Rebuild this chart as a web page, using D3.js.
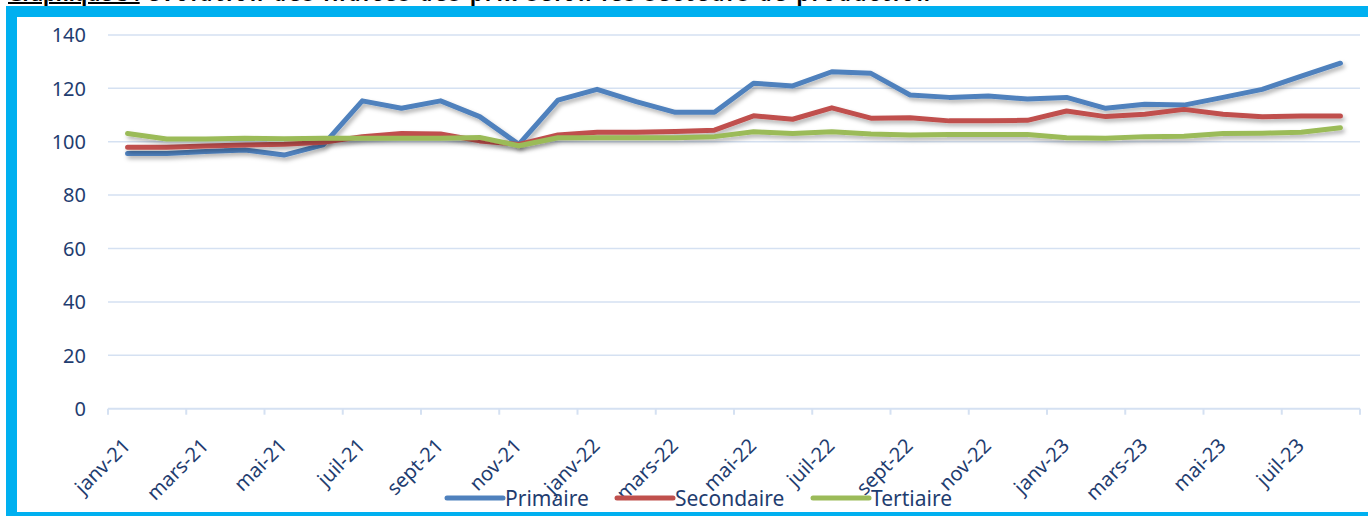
<!DOCTYPE html>
<meta charset="utf-8">
<style>
body { margin: 0; background: #fff; }
text { font-family: "Noto Sans", sans-serif; }
</style>
<svg width="1368" height="516"></svg>
<script src="https://cdn.jsdelivr.net/npm/d3@7"></script>
<script>
// months janv-21 .. août-23
var months = ["janv-21","févr-21","mars-21","avr-21","mai-21","juin-21","juil-21","août-21","sept-21","oct-21","nov-21","déc-21",
              "janv-22","févr-22","mars-22","avr-22","mai-22","juin-22","juil-22","août-22","sept-22","oct-22","nov-22","déc-22",
              "janv-23","févr-23","mars-23","avr-23","mai-23","juin-23","juil-23","août-23"];

var primaire   = [95.6,95.6,96.3,96.9,95.0,98.8,115.3,112.5,115.3,109.4,99.0,115.6,
                  119.6,115.0,111.0,111.0,121.9,120.9,126.2,125.6,117.5,116.6,117.1,116.0,
                  116.6,112.5,114.0,113.7,116.6,119.6,124.6,129.4];
var secondaire = [97.9,97.9,98.4,98.8,99.0,99.8,101.9,103.1,102.9,100.3,99.0,102.5,
                  103.5,103.5,103.8,104.3,109.7,108.4,112.7,108.8,109.0,107.8,107.8,108.0,
                  111.5,109.4,110.3,112.1,110.3,109.3,109.6,109.6];
var tertiaire  = [103.1,101.0,101.0,101.3,101.1,101.3,101.3,101.3,101.3,101.6,98.5,101.5,
                  101.5,101.5,101.5,101.9,103.7,103.1,103.7,102.9,102.5,102.7,102.7,102.7,
                  101.5,101.3,101.9,102.0,103.1,103.2,103.5,105.2];

var yTicks = [0,20,40,60,80,100,120,140];

var seriesNames = ["Primaire","Secondaire","Tertiaire"];
var colors = ["#4f81bd","#c0504d","#9bbb59"];
var series = [primaire, secondaire, tertiaire];

var svg = d3.select("svg");
var textColor = "#1f3d70";

svg.append("rect").attr("x", 0).attr("y", 0).attr("width", 1368).attr("height", 516).attr("fill", "#fff");

// title, cut by the top of the picture
var title = svg.append("text")
    .attr("x", 8).attr("y", 1)
    .attr("font-family", "Liberation Serif")
    .attr("font-weight", "bold")
    .attr("font-size", 20)
    .attr("fill", "#000");
title.append("tspan").attr("text-decoration", "underline").text("Graphique 3 :");
title.append("tspan").attr("textLength", 790)
    .text(" évolution des indices des prix selon les secteurs de production");

// frame
svg.append("rect")
    .attr("x", 11.5).attr("y", 11.5)
    .attr("width", 1368).attr("height", 506)
    .attr("fill", "none")
    .attr("stroke", "#00b0f0")
    .attr("stroke-width", 11);

var margin = {left: 108, right: 1360, top: 34.9, bottom: 408.7};

var x = d3.scaleBand().domain(months).range([margin.left, margin.right]);
var y = d3.scaleLinear().domain([0, 140]).range([margin.bottom, margin.top]);

var defs = svg.append("defs");
var f = defs.append("filter").attr("id", "shadow")
    .attr("x", "-5%").attr("y", "-50%").attr("width", "110%").attr("height", "200%");
f.append("feDropShadow").attr("dx", 2).attr("dy", 3).attr("stdDeviation", 2)
    .attr("flood-color", "#000").attr("flood-opacity", 0.3);

// gridlines
svg.append("g")
  .selectAll("line")
  .data(yTicks.filter(function(d) { return d > 0; }))
  .enter().append("line")
    .attr("x1", margin.left).attr("x2", margin.right)
    .attr("y1", function(d) { return y(d); })
    .attr("y2", function(d) { return y(d); })
    .attr("stroke", "#d5e1f2")
    .attr("stroke-width", 1.5);

// y labels
svg.append("g")
  .selectAll("text")
  .data(yTicks)
  .enter().append("text")
    .attr("x", 86)
    .attr("y", function(d) { return y(d); })
    .attr("dy", "0.36em")
    .attr("text-anchor", "end")
    .attr("font-size", 20)
    .attr("fill", textColor)
    .text(function(d) { return d; });

// x axis
svg.append("line")
    .attr("x1", margin.left).attr("x2", margin.right)
    .attr("y1", y(0)).attr("y2", y(0))
    .attr("stroke", "#d5e1f2").attr("stroke-width", 2);

var tickIdx = d3.range(0, months.length + 1, 2);
svg.append("g")
  .selectAll("line")
  .data(tickIdx)
  .enter().append("line")
    .attr("x1", function(i) { return margin.left + i * x.step(); })
    .attr("x2", function(i) { return margin.left + i * x.step(); })
    .attr("y1", y(0)).attr("y2", y(0) + 6)
    .attr("stroke", "#d5e1f2").attr("stroke-width", 2);

svg.append("g")
  .selectAll("text")
  .data(months.filter(function(d, i) { return i % 2 === 0; }))
  .enter().append("text")
    .attr("transform", function(d) {
      return "translate(" + (x(d) + x.bandwidth() / 2 - 1) + ",442) rotate(-45)";
    })
    .attr("dy", "0.35em")
    .attr("text-anchor", "end")
    .attr("font-size", 20)
    .attr("fill", textColor)
    .text(function(d) { return d; });

// lines
var line = d3.line()
    .x(function(d, i) { return x(months[i]) + x.bandwidth() / 2; })
    .y(function(d) { return y(d); });

svg.append("g")
  .selectAll("path")
  .data(series)
  .enter().append("path")
    .attr("d", line)
    .attr("fill", "none")
    .attr("stroke", function(d, i) { return colors[i]; })
    .attr("stroke-width", 5)
    .attr("stroke-linecap", "round")
    .attr("stroke-linejoin", "round")
    .attr("filter", "url(#shadow)");

// legend
var legendX = [447, 617, 813];
var lg = svg.append("g")
  .selectAll("g")
  .data(seriesNames)
  .enter().append("g")
    .attr("transform", function(d, i) { return "translate(" + legendX[i] + ",498)"; });
lg.append("line")
    .attr("x1", 0).attr("x2", 56)
    .attr("stroke", function(d, i) { return colors[i]; })
    .attr("stroke-width", 5)
    .attr("stroke-linecap", "round");
lg.append("text")
    .attr("x", 58)
    .attr("dy", "0.36em")
    .attr("font-size", 21)
    .attr("fill", textColor)
    .text(function(d) { return d; });
</script>
